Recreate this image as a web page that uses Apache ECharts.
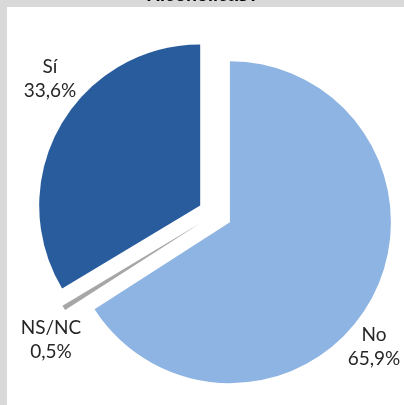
<!DOCTYPE html>
<html>
<head>
<meta charset="utf-8">
<script src="https://cdn.jsdelivr.net/npm/echarts@6/dist/echarts.min.js"></script>
<style>
  html, body { margin: 0; padding: 0; background: #d9d9d9; }
  #chart { width: 404px; height: 405px; }
</style>
</head>
<body>
<div id="chart"></div>
<script>
// Survey answers, share of respondents (%)
const categories = ['No', 'NS/NC', 'Sí'];
const shares = [65.9, 0.5, 33.6];
const sliceColors = ['#8eb4e3', '#a6a6a6', '#295c9c'];
const titleText = 'Alcohólicas?';

// Where each two-line label sits (pixel centre of the text block)
const labelSpots = [
  { x: 374, y: 347 },
  { x: 51, y: 340 },
  { x: 50, y: 79 }
];

const fmt = v => v.toFixed(1).replace('.', ',') + '%';

const chart = echarts.init(document.getElementById('chart'), null, { renderer: 'canvas' });

const labelTexts = categories.map((name, i) => ({
  type: 'text', z: 10, silent: true,
  x: labelSpots[i].x, y: labelSpots[i].y,
  style: {
    text: name + '\n' + fmt(shares[i]),
    fill: '#262626',
    font: '19px Lato, "Noto Sans", sans-serif',
    lineHeight: 24,
    align: 'center',
    verticalAlign: 'middle'
  }
}));

chart.setOption({
  backgroundColor: '#d9d9d9',
  animation: false,
  graphic: [
    {
      type: 'rect', z: -10, silent: true,
      shape: { x: 7, y: 7, width: 397, height: 398 },
      style: { fill: '#ffffff' }
    },
    {
      type: 'text', z: 10, silent: true,
      x: 203, y: 5,
      style: {
        text: titleText,
        fill: '#000000',
        font: 'bold 18px "Liberation Sans", Arial, sans-serif',
        align: 'center',
        verticalAlign: 'bottom'
      }
    }
  ].concat(labelTexts),
  series: [{
    type: 'pie',
    silent: true,
    center: [215, 214],
    radius: 161,
    startAngle: 90,
    clockwise: true,
    selectedMode: 'multiple',
    selectedOffset: 17,
    avoidLabelOverlap: false,
    itemStyle: { borderWidth: 0 },
    label: { show: false },
    labelLine: { show: false },
    data: categories.map((name, i) => ({
      name,
      value: shares[i],
      selected: true,
      itemStyle: { color: sliceColors[i] }
    }))
  }]
});
</script>
</body>
</html>
